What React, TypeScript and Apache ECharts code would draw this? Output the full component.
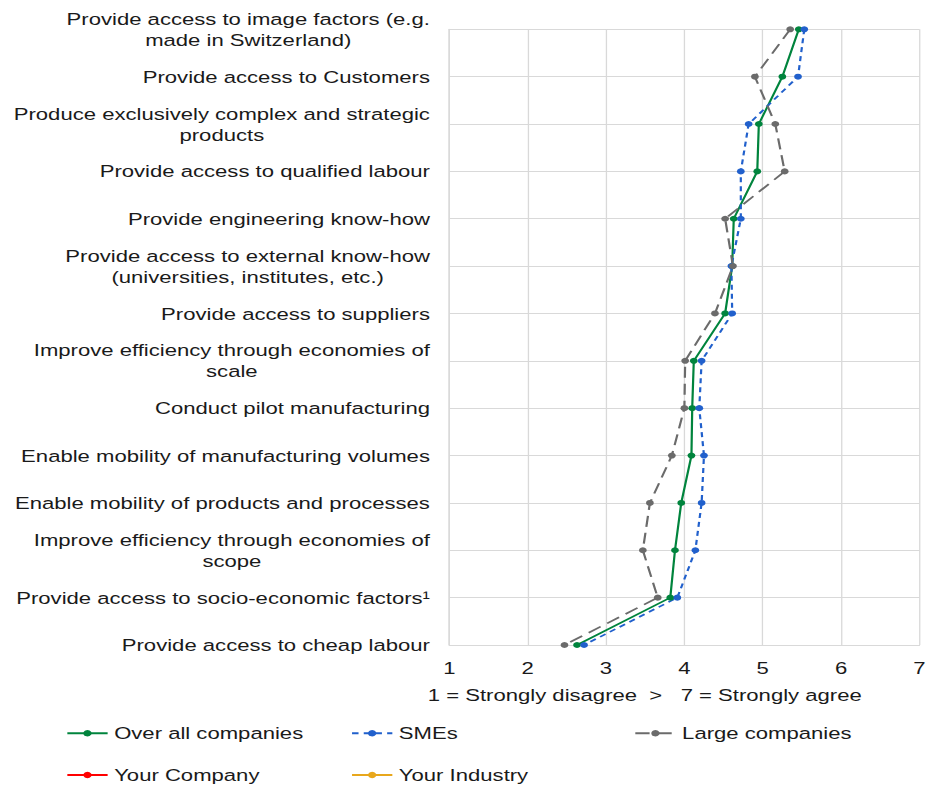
import React, { useEffect, useRef } from "react";
import * as echarts from "echarts";

const categories = [
  "Provide access to image factors (e.g.\nmade in Switzerland)",
  "Provide access to Customers",
  "Produce exclusively complex and strategic\nproducts",
  "Provide access to qualified labour",
  "Provide engineering know-how",
  "Provide access to external know-how\n(universities, institutes, etc.)",
  "Provide access to suppliers",
  "Improve efficiency through economies of\nscale",
  "Conduct pilot manufacturing",
  "Enable mobility of manufacturing volumes",
  "Enable mobility of products and processes",
  "Improve efficiency through economies of\nscope",
  "Provide access to socio-economic factors¹",
  "Provide access to cheap labour",
];

const overallCompanies = [5.46, 5.25, 4.95, 4.93, 4.63, 4.61, 4.52, 4.12, 4.1, 4.09, 3.96, 3.88, 3.82, 2.63];
const smes = [5.53, 5.45, 4.82, 4.72, 4.72, 4.6, 4.61, 4.22, 4.19, 4.25, 4.22, 4.14, 3.91, 2.72];
const largeCompanies = [5.35, 4.9, 5.16, 5.28, 4.52, 4.62, 4.39, 4.01, 4.0, 3.84, 3.56, 3.47, 3.66, 2.47];
const yourCompany: number[] = [];
const yourIndustry: number[] = [];

const seriesNames = ["Over all companies", "SMEs", "Large companies", "Your Company", "Your Industry"];
const xMin = 1;
const xMax = 7;
const xInterval = 1;
const xAxisTitle = "1 = Strongly disagree  >   7 = Strongly agree";

const STRETCH = 1.3;
const OUTER_W = 931;
const OUTER_H = 787;
const INNER_W = OUTER_W / STRETCH;

const FONT = "'Liberation Sans', Arial, sans-serif";
const TEXT_COLOR = "#1a1a1a";
const GRID_COLOR = "#d9d9d9";

export default function App() {
  const ref = useRef<HTMLDivElement>(null);

  useEffect(() => {
    if (!ref.current) return;
    const chart = echarts.init(ref.current, undefined, { renderer: "svg" });

    const lineSeries = (name: string, data: number[], color: string, type: any) => ({
      name,
      type: "line",
      data,
      symbol: "circle",
      symbolSize: 6,
      showSymbol: true,
      itemStyle: { color },
      lineStyle: { color, width: 1.7, type },
      emphasis: { disabled: true },
    });

    const legendBase = {
      orient: "horizontal",
      padding: 0,
      itemWidth: 31,
      itemHeight: 8,
      itemGap: 0,
      selectedMode: false,
      textStyle: { fontSize: 17, fontFamily: FONT, color: TEXT_COLOR },
    };
    const row1Top = 724.8;
    const row2Top = 766.5;

    chart.setOption({
      animation: false,
      backgroundColor: "#ffffff",
      textStyle: { fontFamily: FONT },
      grid: { left: 345.6, right: 8.7, top: 29.3, bottom: 142, containLabel: false },
      xAxis: {
        type: "value",
        min: xMin,
        max: xMax,
        interval: xInterval,
        name: xAxisTitle,
        nameLocation: "middle",
        nameGap: 41.5,
        nameTextStyle: { fontSize: 17, fontFamily: FONT, color: TEXT_COLOR, padding: [0, 61, 0, 0] },
        axisLine: { show: true, lineStyle: { color: GRID_COLOR, width: 1 } },
        axisTick: { show: false },
        axisLabel: { fontSize: 17, fontFamily: FONT, color: TEXT_COLOR, margin: 14 },
        splitLine: { show: true, lineStyle: { color: GRID_COLOR, width: 1 } },
      },
      yAxis: {
        type: "category",
        data: categories,
        inverse: true,
        boundaryGap: false,
        axisLine: { show: true, lineStyle: { color: GRID_COLOR, width: 1 } },
        axisTick: { show: false },
        splitLine: { show: true, lineStyle: { color: GRID_COLOR, width: 1 } },
        axisLabel: {
          margin: 14.8,
          align: "right",
          interval: 0,
          formatter: (v: string) =>
            v
              .split("\n")
              .map((s) => `{c|${s}}`)
              .join("\n"),
          rich: {
            c: { align: "center", fontSize: 17, lineHeight: 21, fontFamily: FONT, color: TEXT_COLOR },
          },
        },
      },
      legend: [
        { ...legendBase, data: [seriesNames[0]], left: 50.8, top: row1Top },
        { ...legendBase, data: [seriesNames[1]], left: 269.8, top: row1Top },
        { ...legendBase, data: [seriesNames[2]], left: 487.7, top: row1Top },
        { ...legendBase, data: [seriesNames[3]], left: 50.8, top: row2Top },
        { ...legendBase, data: [seriesNames[4]], left: 269.8, top: row2Top },
      ],
      series: [
        lineSeries(seriesNames[0], overallCompanies, "#00843d", "solid"),
        lineSeries(seriesNames[1], smes, "#2160cc", [5, 4]),
        lineSeries(seriesNames[2], largeCompanies, "#6b6b6b", [11, 6]),
        lineSeries(seriesNames[3], yourCompany, "#ff0000", "solid"),
        lineSeries(seriesNames[4], yourIndustry, "#e8a71c", "solid"),
      ],
    });

    return () => chart.dispose();
  }, []);

  return (
    <div
      style={{
        position: "fixed",
        left: 0,
        top: 0,
        width: OUTER_W,
        height: OUTER_H,
        overflow: "hidden",
        background: "#ffffff",
      }}
    >
      <div
        ref={ref}
        style={{
          width: INNER_W,
          height: OUTER_H,
          transform: `scaleX(${STRETCH})`,
          transformOrigin: "0 0",
        }}
      />
    </div>
  );
}
